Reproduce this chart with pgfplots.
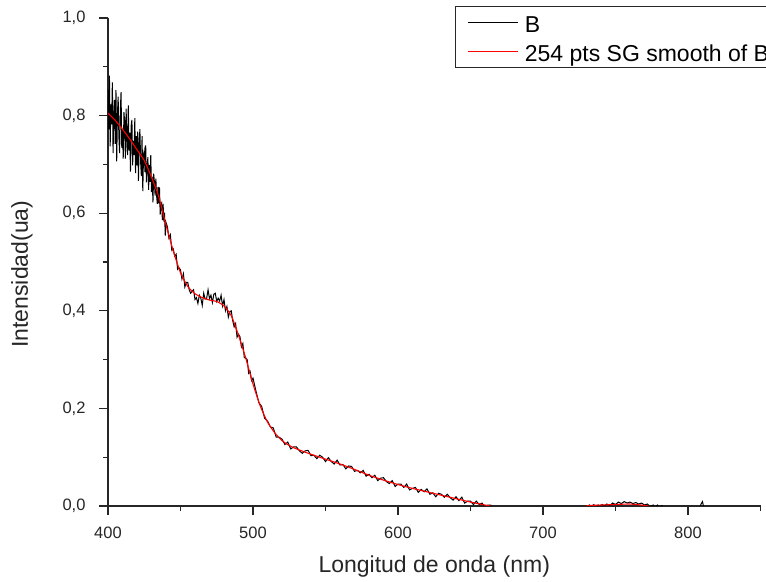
\documentclass[border=0pt]{standalone}
\usepackage{pgfplots}
\pgfplotsset{compat=1.18}
\usepackage{fontspec}
\setmainfont{Liberation Sans}

\begin{document}
\begin{tikzpicture}
\begin{axis}[
  scale only axis,
  width=652.5pt, height=488pt,
  xmin=400, xmax=850, ymin=0, ymax=1.0,
  axis x line=bottom, axis y line=left,
  axis line style={-, line width=1.5pt, black!85},
  xtick={400,500,600,700,800},
  minor xtick={450,550,650,750,850},
  ytick={0,0.2,0.4,0.6,0.8,1.0},
  minor ytick={0.1,0.3,0.5,0.7,0.9},
  tick align=outside,
  major tick length=9pt, minor tick length=5pt,
  tick style={line width=1.3pt, black!85},
  ticklabel style={font=\fontsize{16.5}{18}\selectfont, text=black!85},
  /pgf/number format/assume math mode=true,
  yticklabel style={xshift=-10pt, /pgf/number format/.cd, use comma, fixed, fixed zerofill, precision=1},
  xticklabel style={yshift=-8pt, /pgf/number format/.cd, fixed, set thousands separator={}},
  xlabel={Longitud de onda (nm)},
  ylabel={Intensidad(ua)},
  label style={font=\fontsize{23}{27}\selectfont, text=black!85},
  xlabel style={at={(axis description cs:0.5,-0.1373)}, anchor=base},
  ylabel style={at={(axis description cs:-0.1318,0.475)}, anchor=center, rotate=0},
  legend image code/.code={\path[draw=none, fill=none] (0pt,-2.5pt) rectangle (50pt,2.5pt);
    \draw[#1, line width=1.3pt] (0pt,0pt) -- (50pt,0pt);},
  legend style={at={(axis description cs:0.5318,1.0246)}, anchor=north west,
    draw=black!85, line width=1.2pt, fill=white,
    font=\fontsize{23}{27}\selectfont,
    inner xsep=12pt, inner ysep=3pt, row sep=3pt, column sep=6pt,
    nodes={draw=none, fill=none, inner sep=0pt, text height=23pt, text depth=3pt}},
  legend cell align=left,
]
\addplot[draw=black, line width=1pt] coordinates {
(400.0,0.853)(400.5,0.772)(401.0,0.882)(401.5,0.737)(402.0,0.823)(402.5,0.782)(403.0,0.868)(403.5,0.723)(404.0,0.801)(404.5,0.832)
(405.0,0.742)(405.5,0.852)(406.0,0.706)(406.5,0.801)(407.0,0.839)(407.5,0.757)(408.0,0.723)(408.5,0.809)(409.0,0.848)(409.5,0.734)
(410.0,0.772)(410.5,0.712)(411.0,0.807)(411.5,0.786)(412.0,0.712)(412.5,0.814)(413.0,0.754)(413.5,0.719)(414.0,0.821)(414.5,0.728)
(415.0,0.765)(415.5,0.685)(416.0,0.780)(416.5,0.791)(417.0,0.698)(417.5,0.748)(418.0,0.719)(418.5,0.795)(419.0,0.682)(419.5,0.758)
(420.0,0.698)(420.5,0.767)(421.0,0.666)(421.5,0.742)(422.0,0.772)(422.5,0.705)(423.0,0.676)(423.5,0.758)(424.0,0.645)(424.5,0.720)
(425.0,0.728)(425.5,0.684)(426.0,0.739)(426.5,0.663)(427.0,0.691)(427.5,0.715)(428.0,0.648)(428.5,0.699)(429.0,0.664)(429.5,0.719)
(430.0,0.643)(430.5,0.675)(431.0,0.622)(431.5,0.681)(432.0,0.664)(432.5,0.636)(433.0,0.671)(433.5,0.637)(434.0,0.619)(434.5,0.654)
(435.0,0.620)(435.5,0.653)(436.0,0.597)(436.5,0.618)(437.0,0.621)(437.5,0.586)(438.0,0.619)(438.5,0.583)(439.0,0.601)(439.5,0.554)
(440.0,0.581)(441,0.572)(442,0.549)(443,0.556)(444,0.524)(445,0.527)(446,0.512)(447,0.516)(448,0.485)(449,0.488)
(450,0.484)(451,0.465)(452,0.476)(453,0.449)(454,0.458)(455,0.458)(456,0.443)(457,0.436)(458,0.440)(459,0.443)
(460,0.423)(461,0.427)(462,0.415)(463,0.432)(464,0.426)(465,0.411)(466,0.436)(467,0.424)(468,0.425)(469,0.443)
(470,0.425)(471,0.432)(472,0.417)(473,0.434)(474,0.436)(475,0.419)(476,0.426)(477,0.420)(478,0.432)(479,0.410)
(480,0.423)(481,0.400)(482,0.409)(483,0.387)(484,0.398)(485,0.400)(486,0.380)(487,0.367)(488,0.374)(489,0.346)
(490,0.352)(491,0.347)(492,0.326)(493,0.333)(494,0.304)(495,0.303)(496,0.300)(497,0.272)(498,0.276)(499,0.257)
(500,0.262)(502,0.236)(504,0.212)(506,0.204)(508,0.180)(510,0.174)(512,0.162)(514,0.160)(516,0.141)(518,0.141)
(520,0.137)(522,0.126)(524,0.131)(526,0.117)(528,0.121)(530,0.121)(532,0.113)(534,0.108)(536,0.113)(538,0.114)
(540,0.103)(542,0.104)(544,0.097)(546,0.104)(548,0.100)(550,0.091)(552,0.099)(554,0.091)(556,0.086)(558,0.094)
(560,0.084)(562,0.085)(564,0.076)(566,0.082)(568,0.081)(570,0.071)(572,0.073)(574,0.068)(576,0.073)(578,0.061)
(580,0.065)(582,0.058)(584,0.063)(586,0.052)(588,0.057)(590,0.058)(592,0.050)(594,0.046)(596,0.052)(598,0.040)
(600,0.045)(602,0.045)(604,0.038)(606,0.045)(608,0.033)(610,0.036)(612,0.038)(614,0.028)(616,0.034)(618,0.029)
(620,0.035)(622,0.024)(624,0.027)(626,0.019)(628,0.026)(630,0.024)(632,0.018)(634,0.024)(636,0.017)(638,0.012)
(640,0.019)(642,0.011)(644,0.018)(646,0.006)(648,0.010)(650,0.010)(652,0.003)(654,0.010)(656,0.003)(658,0.006)
(660,-0.003)(662,0.002)(664,0.002)(666,-0.004)(670,-0.008)(675,-0.006)(680,-0.010)(690,-0.009)(700,-0.012)(710,-0.010)
(720,-0.008)(726,-0.006)(730,-0.003)(732,0.002)(733,-0.002)(735,0.003)(736,-0.001)(738,0.002)(739,-0.001)(741,0.003)
(742,-0.001)(744,0.004)(746,0.001)(748,0.006)(750,0.003)(752,0.008)(754,0.005)(756,0.009)(758,0.006)(760,0.008)
(762,0.005)(764,0.007)(766,0.004)(768,0.006)(770,0.002)(772,0.004)(774,-0.001)(776,0.002)(777,-0.002)(779,0.002)
(780,-0.002)(782,0.001)(783,-0.004)(790,-0.008)(800,-0.010)(808,-0.006)(809,0.004)(810,0.009)(811,-0.005)(820,-0.010)
(835,-0.012)(850,-0.010)
};
\addlegendentry{B}
\addplot[draw=red, line width=1.1pt, smooth, tension=0.4] coordinates {
(400,0.805)(405,0.790)(410,0.772)(415,0.752)(420,0.730)(425,0.708)(430,0.674)(435,0.634)(440,0.576)(445,0.523)
(450,0.478)(455,0.450)(460,0.435)(465,0.427)(470,0.422)(475,0.419)(480,0.410)(485,0.390)(490,0.350)(495,0.303)
(500,0.250)(505,0.205)(510,0.172)(515,0.150)(520,0.134)(525,0.124)(530,0.117)(540,0.106)(550,0.096)(560,0.086)
(570,0.075)(580,0.063)(590,0.053)(600,0.044)(610,0.036)(620,0.029)(630,0.022)(640,0.015)(650,0.008)(655,0.005)
(660,0.002)(664,-0.0004)(670,-0.004)(680,-0.008)(700,-0.010)(720,-0.006)(728,-0.002)(731,0.0008)(740,0.002)(750,0.003)
(760,0.004)(771,0.0008)(775,-0.002)(790,-0.008)(850,-0.010)
};
\addlegendentry{254 pts SG smooth of B}
\end{axis}
\pgfresetboundingbox
\path[use as bounding box] ([shift={(-108pt,-76pt)}]current axis.south west) rectangle ([shift={(5.5pt,18pt)}]current axis.north east);
\end{tikzpicture}
\end{document}
